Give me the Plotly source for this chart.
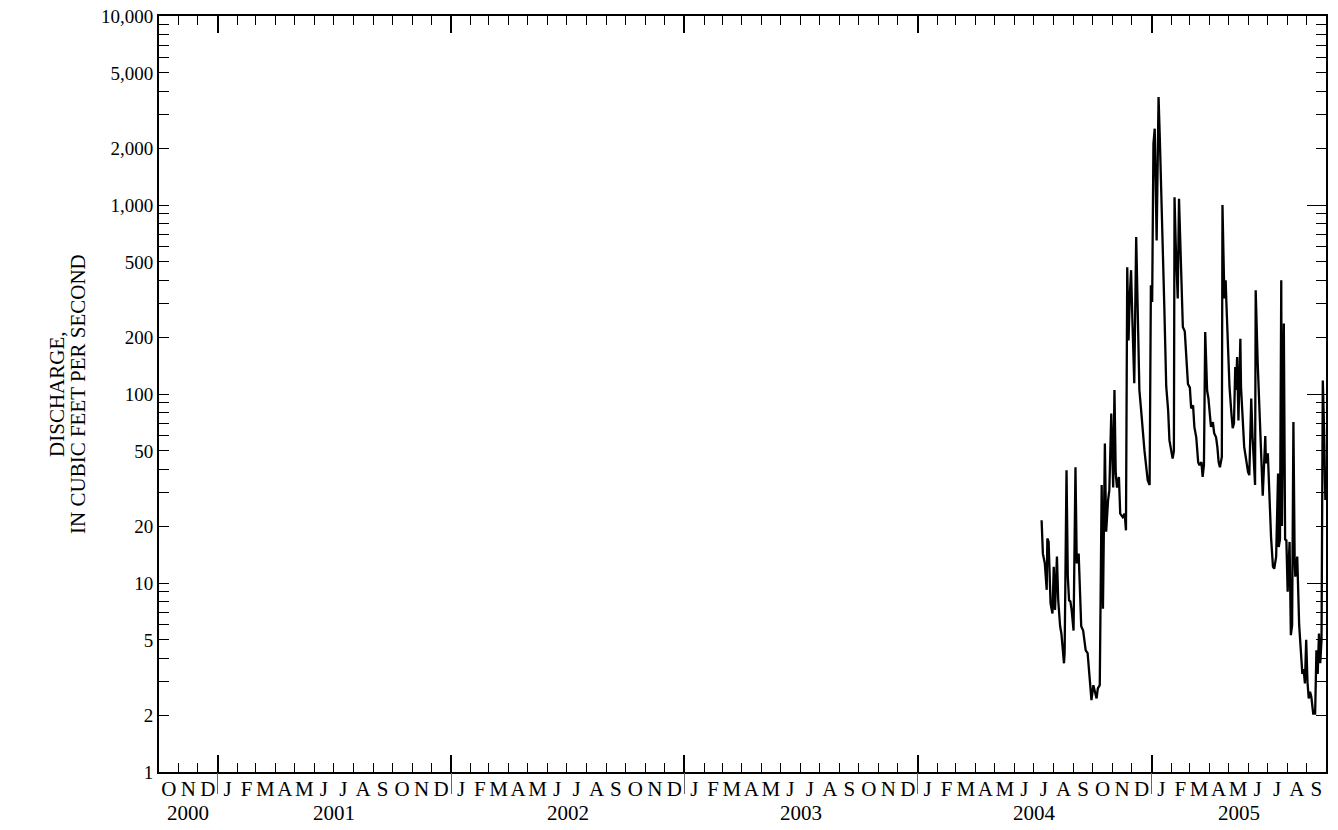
import plotly.graph_objects as go
import pandas as pd

# ---------------- data ----------------
dates = [
    "2004-07-13", "2004-07-15", "2004-07-18", "2004-07-21", "2004-07-22", "2004-07-24",
    "2004-07-27", "2004-07-30", "2004-08-01", "2004-08-03", "2004-08-06", "2004-08-08",
    "2004-08-11", "2004-08-13", "2004-08-17", "2004-08-18", "2004-08-21", "2004-08-23",
    "2004-08-25", "2004-08-27", "2004-08-29", "2004-09-01", "2004-09-04", "2004-09-06",
    "2004-09-09", "2004-09-13", "2004-09-16", "2004-09-20", "2004-09-23", "2004-09-26",
    "2004-09-29", "2004-10-02", "2004-10-04", "2004-10-07", "2004-10-09", "2004-10-12",
    "2004-10-15", "2004-10-17", "2004-10-20", "2004-10-22", "2004-10-25", "2004-10-27",
    "2004-10-30", "2004-11-02", "2004-11-04", "2004-11-06", "2004-11-08", "2004-11-11",
    "2004-11-13", "2004-11-17", "2004-11-20", "2004-11-22", "2004-11-24", "2004-11-26",
    "2004-11-28", "2004-11-30", "2004-12-02", "2004-12-05", "2004-12-08", "2004-12-10",
    "2004-12-13", "2004-12-16", "2004-12-21", "2004-12-26", "2004-12-29", "2004-12-31",
    "2005-01-02", "2005-01-04", "2005-01-06", "2005-01-09", "2005-01-12", "2005-01-14",
    "2005-01-16", "2005-01-18", "2005-01-19", "2005-01-21", "2005-01-24", "2005-01-27",
    "2005-01-29", "2005-02-01", "2005-02-03", "2005-02-05", "2005-02-06", "2005-02-08",
    "2005-02-11", "2005-02-13", "2005-02-15", "2005-02-19", "2005-02-22", "2005-02-27",
    "2005-03-02", "2005-03-04", "2005-03-07", "2005-03-09", "2005-03-12", "2005-03-15",
    "2005-03-17", "2005-03-20", "2005-03-22", "2005-03-24", "2005-03-26", "2005-03-29",
    "2005-03-31", "2005-04-02", "2005-04-04", "2005-04-07", "2005-04-09", "2005-04-12",
    "2005-04-14", "2005-04-16", "2005-04-18", "2005-04-21", "2005-04-22", "2005-04-25",
    "2005-04-27", "2005-04-28", "2005-04-30", "2005-05-03", "2005-05-06", "2005-05-08",
    "2005-05-10", "2005-05-12", "2005-05-13", "2005-05-15", "2005-05-17", "2005-05-20",
    "2005-05-21", "2005-05-24", "2005-05-26", "2005-06-01", "2005-06-03", "2005-06-06",
    "2005-06-08", "2005-06-12", "2005-06-13", "2005-06-16", "2005-06-19", "2005-06-22",
    "2005-06-24", "2005-06-28", "2005-06-29", "2005-07-02", "2005-07-05", "2005-07-07",
    "2005-07-10", "2005-07-12", "2005-07-15", "2005-07-18", "2005-07-19", "2005-07-21",
    "2005-07-23", "2005-07-24", "2005-07-27", "2005-07-29", "2005-07-31", "2005-08-02",
    "2005-08-05", "2005-08-07", "2005-08-09", "2005-08-11", "2005-08-13", "2005-08-14",
    "2005-08-17", "2005-08-20", "2005-08-25", "2005-08-27", "2005-08-29", "2005-08-31",
    "2005-09-02", "2005-09-04", "2005-09-06", "2005-09-08", "2005-09-11", "2005-09-14",
    "2005-09-16", "2005-09-18", "2005-09-20", "2005-09-22", "2005-09-24", "2005-09-26",
    "2005-09-28", "2005-09-30",
]
discharge = [
    21.5, 14.3, 12.7, 9.2, 17.2, 16.5,
    7.8, 6.9, 12.2, 7.2, 13.8, 8.1,
    5.9, 5.4, 3.76, 4.25, 39.5, 10.8,
    8.1, 8.0, 7.2, 5.6, 41, 12.7,
    14.3, 5.9, 5.6, 4.4, 4.25, 3.3,
    2.4, 2.88, 2.66, 2.45, 2.77, 2.88,
    33, 7.3, 54.7, 18.7, 27.4, 31,
    78.9, 32, 105, 38, 32, 36.4,
    23.3, 22.3, 23.3, 19, 468, 192,
    330, 452, 250, 114, 678, 300,
    105, 80, 50, 35, 33, 376,
    307, 2113, 2535, 650, 3724, 2250,
    1350, 800, 490, 290, 110, 82,
    57, 49, 45.5, 50, 1100, 600,
    320, 1080, 600, 226, 215, 113,
    108, 84, 87, 67, 59, 43.6,
    42, 43.6, 36.4, 42, 213, 104,
    95, 79, 67, 71, 62, 59,
    52.5, 43.6, 41, 46.5, 1000, 320,
    400, 313, 200, 109, 79, 66,
    70, 139, 105, 157, 72.5, 196,
    109, 69, 52.5, 38.7, 37.2, 94.5,
    60, 33, 354, 150, 75, 45,
    29, 60, 43, 48.5, 26.5, 17.5,
    12.2, 11.9, 13.8, 38, 15.5, 17,
    400, 20, 236, 17, 16.8, 9.0,
    16.5, 5.3, 6, 71, 13, 10.8,
    13.8, 6, 3.3, 3.5, 2.94, 5.0,
    3.0, 2.45, 2.66, 2.5, 2.04, 2.04,
    4.4, 3.3, 5.4, 3.76, 5.0, 118,
    64, 27.5,
]

y_tick_values = [1, 2, 5, 10, 20, 50, 100, 200, 500, 1000, 2000, 5000, 10000]
y_tick_text = ["1", "2", "5", "10", "20", "50", "100", "200", "500",
               "1,000", "2,000", "5,000", "10,000"]
y_minor_multipliers = [3, 4, 6, 7, 8, 9]
y_decades = [1, 10, 100, 1000, 10000]
month_letters = ["J", "F", "M", "A", "M", "J", "J", "A", "S", "O", "N", "D"]
year_labels = ["2000", "2001", "2002", "2003", "2004", "2005"]
x_start, x_end = "2000-10-01", "2005-10-01"
y_title_lines = ["DISCHARGE,", "IN CUBIC FEET PER SECOND"]

# ---------------- derived tick positions ----------------
y_minor_values = [m * 10 ** e for e in range(4) for m in y_minor_multipliers]
month_starts = pd.date_range(x_start, x_end, freq="MS")
month_ticks = list(month_starts[1:-1])
year_ticks = list(pd.date_range("2001-01-01", "2005-01-01", freq="YS"))
month_mids = [a + (b - a) / 2 for a, b in zip(month_starts[:-1], month_starts[1:])]
month_text = [month_letters[d.month - 1] for d in month_starts[:-1]]

t0, t1 = pd.Timestamp(x_start), pd.Timestamp(x_end)
year_pos = []
for lbl in year_labels:
    a = max(pd.Timestamp(f"{lbl}-01-01"), t0)
    b = min(pd.Timestamp(f"{int(lbl)+1}-01-01"), t1)
    year_pos.append(a + (b - a) / 2)

FONT = "Liberation Serif"
xr = [x_start, x_end]

fig = go.Figure()
fig.add_trace(go.Scatter(x=dates, y=discharge, mode="lines",
                         line=dict(color="black", width=2.3),
                         showlegend=False, hoverinfo="x+y"))
# empty helper traces so the overlay axes are drawn
for xa, ya in [("x2", "y"), ("x3", "y"), ("x4", "y"), ("x", "y2")]:
    fig.add_trace(go.Scatter(x=[], y=[], xaxis=xa, yaxis=ya, showlegend=False))

common_x = dict(type="date", range=xr, showgrid=False, zeroline=False,
                automargin=False)
fig.update_layout(
    width=1338, height=830,
    margin=dict(l=159, r=12, t=16, b=58, autoexpand=False),
    paper_bgcolor="white", plot_bgcolor="white",
    font=dict(family=FONT, size=19, color="black"),
    xaxis=dict(**common_x, tickmode="array", tickvals=month_ticks,
               ticks="inside", ticklen=9, tickwidth=1.2, tickcolor="black",
               showticklabels=False, showline=True, linecolor="black",
               linewidth=2, mirror="ticks"),
    xaxis2=dict(**common_x, overlaying="x", anchor="y", tickmode="array",
                tickvals=year_ticks, ticks="inside", ticklen=17, tickwidth=1.5,
                tickcolor="black", showticklabels=False, showline=False,
                mirror="ticks"),
    xaxis3=dict(**common_x, overlaying="x", anchor="y", tickmode="array",
                tickvals=year_ticks, ticks="outside", ticklen=21, tickwidth=1,
                tickcolor="#666666", showticklabels=False, showline=False),
    xaxis4=dict(**common_x, overlaying="x", anchor="y", tickmode="array",
                tickvals=month_mids, ticktext=month_text, ticks="",
                showline=False, tickangle=0, ticklabelstandoff=2,
                tickfont=dict(family=FONT, size=21, color="black")),
    yaxis=dict(type="log", range=[0, 4], tickmode="array",
               tickvals=y_tick_values, ticktext=y_tick_text,
               ticks="inside", ticklen=10, tickwidth=1.2, tickcolor="black",
               showline=True, linecolor="black", linewidth=2, mirror="ticks",
               showgrid=False, zeroline=False, automargin=False,
               minor=dict(tickmode="array", tickvals=y_minor_values,
                          ticks="inside", ticklen=10, tickwidth=1.2,
                          tickcolor="black", showgrid=False),
               tickfont=dict(family=FONT, size=19, color="black")),
    yaxis2=dict(type="log", range=[0, 4], overlaying="y", side="right",
                anchor="x", tickmode="array", tickvals=y_decades,
                ticks="inside", ticklen=19, tickwidth=1.2, tickcolor="black",
                showticklabels=False, showline=False, showgrid=False,
                zeroline=False, automargin=False),
)

for lbl, pos in zip(year_labels, year_pos):
    fig.add_annotation(x=pos, xref="x", y=0, yref="paper", yshift=-41,
                       text=lbl, showarrow=False, xanchor="center",
                       yanchor="middle",
                       font=dict(family=FONT, size=21, color="black"))

# two-line rotated axis title, lines ~21 px apart
for line_text, xpos in zip(y_title_lines, [-0.0875, -0.0695]):
    fig.add_annotation(x=xpos, xref="paper", y=0.5, yref="paper",
                       text=line_text, textangle=-90, showarrow=False,
                       xanchor="center", yanchor="middle",
                       font=dict(family=FONT, size=21, color="black"))

# remove the default 8px page margin so the figure fills the window exactly
fig.write_html("out.html",
               config={"displayModeBar": False},
               post_script="document.body.style.margin='0';"
                           "document.body.style.overflow='hidden';")
